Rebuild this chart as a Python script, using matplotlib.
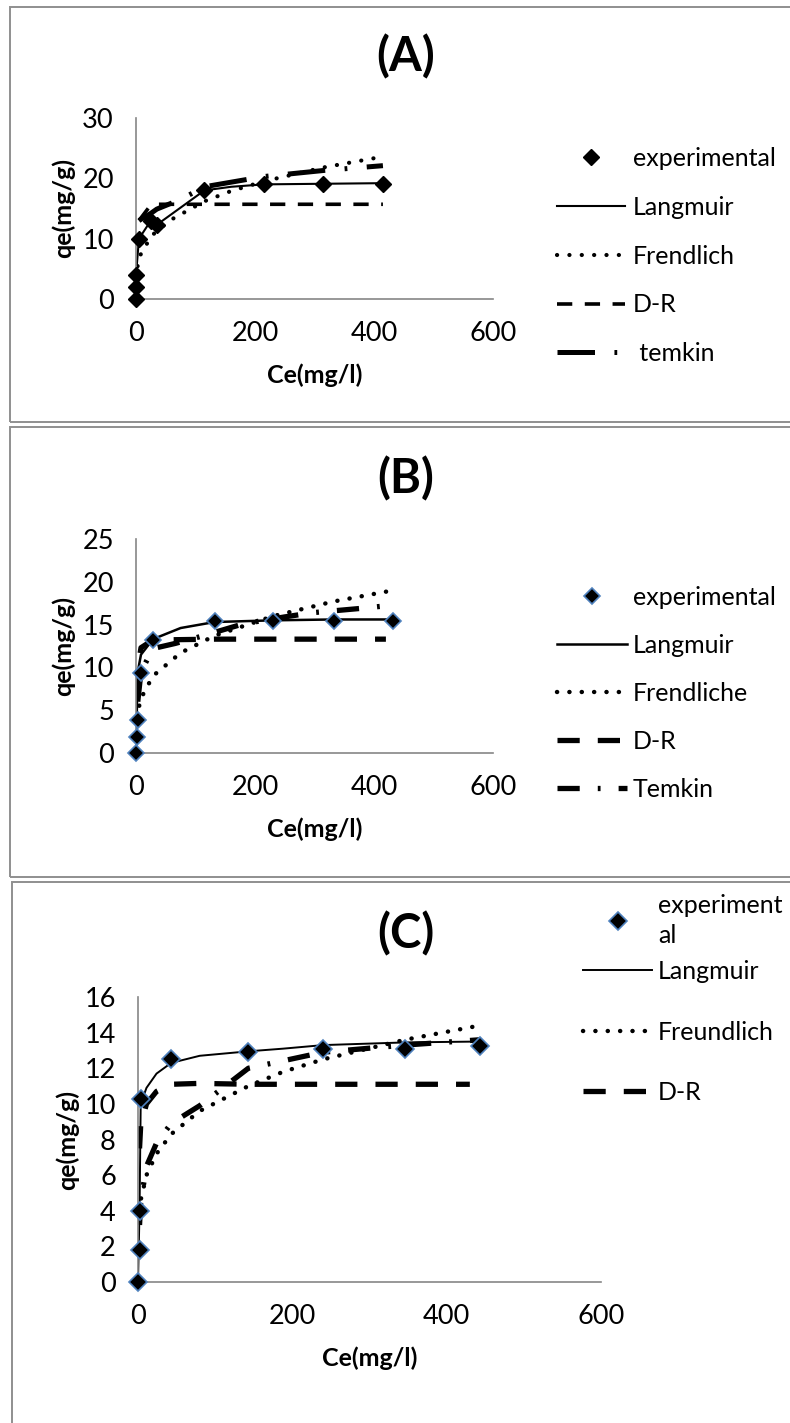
import matplotlib.pyplot as plt
from matplotlib.patches import Rectangle

plt.rcParams['font.family'] = ['Lato', 'DejaVu Sans']
plt.rcParams['lines.scale_dashes'] = False

W, H = 790, 1423

# (A) isotherm data
ce_exp_a = [0, 0, 0, 5, 25, 35, 115, 215, 315, 415]
qe_exp_a = [0, 2, 4, 10, 13, 12.3, 18, 19, 19, 19]
ce_lang_a = [0, 0, 5, 25, 35, 115, 160, 215, 315, 415]
qe_lang_a = [0, 4, 10, 13, 12.3, 18, 18.6, 19, 19.1, 19.2]
ce_freu_a = [0.5, 1.5, 5, 25, 35, 60, 115, 160, 215, 315, 415]
qe_freu_a = [3.4, 4.7, 6.9, 10.3, 11.3, 13.2, 16.2, 17.9, 19.5, 21.8, 23.6]
ce_dr_a = [5, 25, 35, 115, 215, 315, 415]
qe_dr_a = [13.0, 15.6, 15.7, 15.7, 15.7, 15.7, 15.7]
ce_tem_a = [5, 25, 35, 75, 115, 215, 315, 415]
qe_tem_a = [13.0, 14.2, 14.9, 16.5, 18.6, 20.3, 21.3, 22.1]

# (B)
ce_exp_b = [0, 1.7, 3, 8.4, 28.5, 132, 231, 332, 432]
qe_exp_b = [0, 1.9, 3.8, 9.3, 13.2, 15.4, 15.4, 15.4, 15.4]
ce_lang_b = [0, 1.7, 3, 8.4, 28.5, 75, 132, 231, 332, 432]
qe_lang_b = [0, 6, 9.5, 11.5, 13.3, 14.6, 15.3, 15.5, 15.6, 15.6]
ce_freu_b = [1.7, 3, 8.4, 28.5, 75, 132, 231, 332, 432]
qe_freu_b = [4.1, 4.8, 6.4, 9.0, 11.7, 13.7, 16.0, 17.7, 19.0]
ce_dr_b = [1.7, 3, 8.4, 28.5, 132, 231, 332, 420]
qe_dr_b = [7, 10, 12.3, 13.2, 13.3, 13.3, 13.3, 13.3]
ce_tem_b = [3, 8.4, 28.5, 66, 108, 181, 250, 298, 379, 421]
qe_tem_b = [6, 9.5, 12.2, 12.8, 13.6, 15.1, 15.9, 16.4, 16.9, 17.2]

# (C)
ce_exp_c = [0, 2, 2, 3.5, 43, 143, 240, 346, 443]
qe_exp_c = [0, 1.8, 4.0, 10.3, 12.5, 12.9, 13.1, 13.1, 13.25]
ce_lang_c = [0, 2, 3.5, 11, 24, 43, 80, 143, 188, 240, 346, 443]
qe_lang_c = [0, 4, 10, 10.9, 11.7, 12.3, 12.7, 12.95, 13.1, 13.3, 13.45, 13.5]
ce_freu_c = [2, 3.5, 11, 24, 43, 80, 143, 188, 240, 346, 443]
qe_freu_c = [4.0, 4.6, 6.0, 7.2, 8.3, 9.6, 11.0, 11.8, 12.5, 13.6, 14.4]
ce_dr_c = [2, 3.5, 11, 24, 43, 80, 143, 240, 346, 430]
qe_dr_c = [7.5, 8.8, 10.0, 10.7, 11.1, 11.15, 11.1, 11.1, 11.1, 11.1]
ce_tem_c = [2, 3.5, 11, 24, 43, 80, 143, 240, 346, 443]
qe_tem_c = [3.2, 4.5, 6.5, 7.8, 8.9, 9.9, 12.0, 12.9, 13.3, 13.6]

xticks = [0, 200, 400, 600]

fig = plt.figure(figsize=(W / 100, H / 100), dpi=100)


def rect(left, right, top, bottom):
    return [left / W, 1 - bottom / H, (right - left) / W, (bottom - top) / H]


def panel_box(top, bottom, left):
    fig.patches.append(Rectangle((left / W, 1 - bottom / H), (820 - left) / W, (bottom - top) / H,
                                 transform=fig.transFigure, fill=False,
                                 edgecolor='#8f8f8f', lw=1.4))


def setup(ax, ymax, ystep, xlab_y, ylab_x):
    ax.set_xlim(0, 600)
    ax.set_ylim(0, ymax)
    ax.set_xticks(xticks)
    ax.set_yticks(range(0, ymax + 1, ystep))
    for s in ['top', 'right']:
        ax.spines[s].set_visible(False)
    for s in ['left', 'bottom']:
        ax.spines[s].set_color('#868686')
        ax.spines[s].set_linewidth(1.2)
    ax.tick_params(length=0, pad=16, labelsize=19.5)
    ax.set_xlabel('Ce(mg/l)', fontsize=18, fontweight='bold')
    ax.set_ylabel('qe(mg/g)', fontsize=18, fontweight='bold')
    ax.xaxis.set_label_coords(0.5, xlab_y)
    ax.xaxis.label.set_va('center')
    ax.yaxis.set_label_coords(ylab_x, 0.5)
    ax.yaxis.label.set_va('center')
    ax.patch.set_alpha(0)


panel_box(7, 422, 10)
panel_box(427, 877, 10)
panel_box(882, 1440, 12)

fig.text(406 / W, 1 - 57 / H, '(A)', fontsize=34, fontweight='bold', ha='center', va='center')
fig.text(406 / W, 1 - 479 / H, '(B)', fontsize=34, fontweight='bold', ha='center', va='center')
fig.text(406 / W, 1 - 934 / H, '(C)', fontsize=34, fontweight='bold', ha='center', va='center')

dots = (0, (0.1, 8.8))
leg_kw = dict(loc='upper left', bbox_transform=fig.transFigure, frameon=False, fontsize=18,
              borderpad=0, borderaxespad=0, numpoints=1)

# ---- (A)
ax = fig.add_axes(rect(136, 493, 118, 299))
setup(ax, 30, 10, -0.42, -0.204)
h_exp, = ax.plot(ce_exp_a, qe_exp_a, 'D', color='black', ms=8.5, mec='black', clip_on=False, zorder=5)
h_lan, = ax.plot(ce_lang_a, qe_lang_a, '-', color='black', lw=1.5)
h_fre, = ax.plot(ce_freu_a, qe_freu_a, linestyle=dots, color='black', lw=3, dash_capstyle='round')
h_dr, = ax.plot(ce_dr_a, qe_dr_a, linestyle=(0, (11, 9)), color='black', lw=2.6)
h_tem, = ax.plot(ce_tem_a, qe_tem_a, linestyle=(0, (27, 14, 2, 14)), color='black', lw=3.6)
ax.legend([h_exp, h_lan, h_fre, h_dr, h_tem],
          ['experimental', 'Langmuir', 'Frendlich', 'D-R', ' temkin'],
          bbox_to_anchor=(557 / W, 1 - 147 / H), handlelength=2.72, handletextpad=0.32,
          labelspacing=1.03, **leg_kw)

# ---- (B)
ax = fig.add_axes(rect(136, 493, 539, 753))
setup(ax, 25, 5, -0.355, -0.204)
h_exp, = ax.plot(ce_exp_b, qe_exp_b, 'D', color='black', ms=8.2, mec='#4f81bd', mew=1.2,
                 clip_on=False, zorder=5)
h_lan, = ax.plot(ce_lang_b, qe_lang_b, '-', color='black', lw=1.8)
h_fre, = ax.plot(ce_freu_b, qe_freu_b, linestyle=dots, color='black', lw=3.2, dash_capstyle='round')
h_dr, = ax.plot(ce_dr_b, qe_dr_b, linestyle=(0, (16, 13)), color='black', lw=3.8)
h_tem, = ax.plot(ce_tem_b, qe_tem_b, linestyle=(0, (16, 13, 2, 13)), color='black', lw=3.8)
ax.legend([h_exp, h_lan, h_fre, h_dr, h_tem],
          ['experimental', 'Langmuir', 'Frendliche', 'D-R', 'Temkin'],
          bbox_to_anchor=(557 / W, 1 - 586 / H), handlelength=2.8, handletextpad=0.24,
          labelspacing=1.0, **leg_kw)

# ---- (C)
ax = fig.add_axes(rect(138, 601, 997, 1282))
setup(ax, 16, 2, -0.267, -0.153)
h_exp, = ax.plot(ce_exp_c, qe_exp_c, 'D', color='black', ms=8.8, mec='#4f81bd', mew=1.2,
                 clip_on=False, zorder=5)
h_lan, = ax.plot(ce_lang_c, qe_lang_c, '-', color='black', lw=1.4)
h_fre, = ax.plot(ce_freu_c, qe_freu_c, linestyle=dots, color='black', lw=3.2, dash_capstyle='round')
h_dr, = ax.plot(ce_dr_c, qe_dr_c, linestyle=(0, (16, 13)), color='black', lw=3.8)
ax.plot(ce_tem_c, qe_tem_c, linestyle=(0, (16, 13, 2, 13)), color='black', lw=3.8)
leg = ax.legend([h_exp], ['experiment\nal'], bbox_to_anchor=(583 / W, 1 - 894 / H),
                handlelength=2.76, handletextpad=0.24, **leg_kw)
leg.get_texts()[0].set_linespacing(1.35)
ax.add_artist(leg)
ax.legend([h_lan, h_fre, h_dr], ['Langmuir', 'Freundlich', 'D-R'],
          bbox_to_anchor=(583 / W, 1 - 960 / H), handlelength=2.76, handletextpad=0.24,
          labelspacing=1.5, **leg_kw)

fig.savefig('out.png', dpi=100)
